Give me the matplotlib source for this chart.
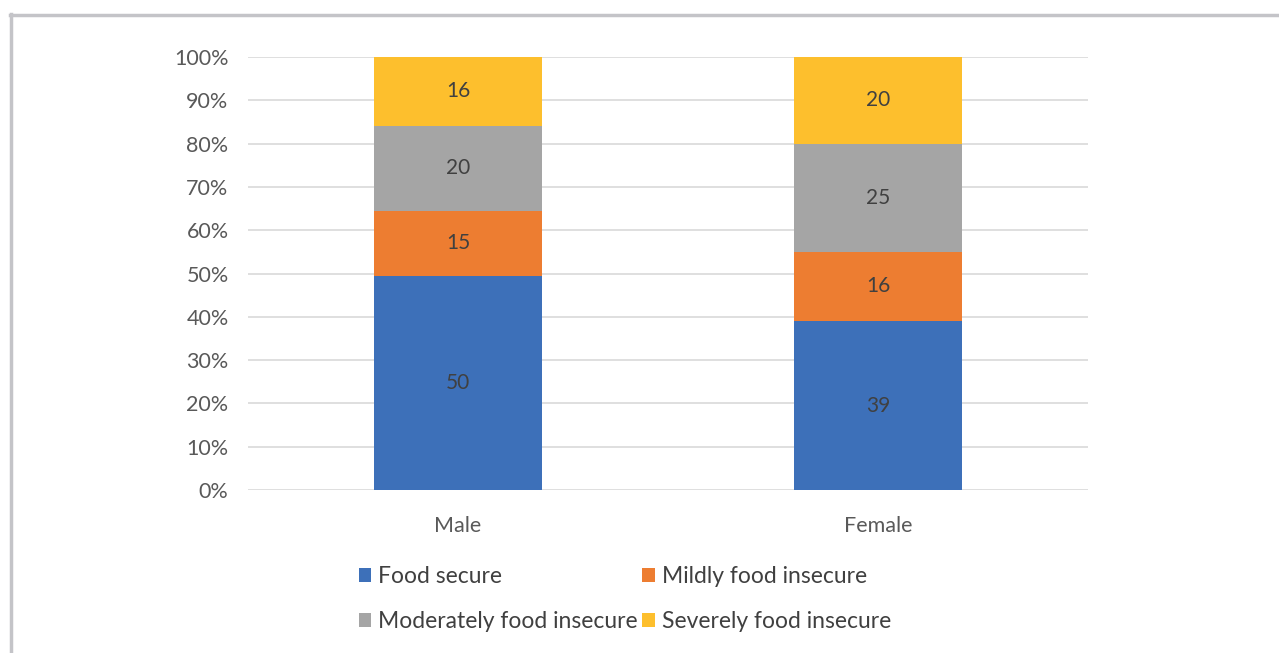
import numpy as np
import matplotlib.pyplot as plt
from matplotlib.lines import Line2D

plt.rcParams['font.family'] = ['Lato', 'DejaVu Sans']

groups = ["Male", "Female"]
series = ["Food secure", "Mildly food insecure", "Moderately food insecure", "Severely food insecure"]
food_secure = [50, 39]
mildly = [15, 16]
moderately = [20, 25]
severely = [16, 20]
colors = ["#3D70B9", "#ED7D31", "#A5A5A5", "#FDBF2D"]

vals = np.array([food_secure, mildly, moderately, severely], dtype=float)
shares = vals / vals.sum(axis=0) * 100

fig = plt.figure(figsize=(12.79, 6.53), dpi=100)
ax = fig.add_axes([248 / 1279, 1 - 490 / 653, 840 / 1279, 433 / 653])

x = np.arange(len(groups))
bottom = np.zeros(len(groups))
handles = []
for i, name in enumerate(series):
    bars = ax.bar(x, shares[i], 0.4, bottom=bottom, color=colors[i], label=name, zorder=3)
    for j, b in enumerate(bars):
        ax.text(b.get_x() + b.get_width() / 2, bottom[j] + shares[i][j] / 2,
                f"{vals[i][j]:.0f}", ha="center", va="center", fontsize=15, color="#404040", zorder=4)
    bottom += shares[i]
    handles.append(bars)

ax.set_xlim(-0.5, 1.5)
ax.set_ylim(0, 100)
ax.set_yticks(np.arange(0, 101, 10))
ax.set_yticklabels([f"{v}%" for v in range(0, 101, 10)])
ax.set_xticks(x)
ax.set_xticklabels(groups)
ax.tick_params(axis="both", length=0, labelsize=15.5, labelcolor="#595959")
ax.tick_params(axis="y", pad=14)
ax.tick_params(axis="x", pad=19)
ax.grid(axis="y", color="#D9D9D9", linewidth=1.2, zorder=0)
for s in ax.spines.values():
    s.set_visible(False)

order = [0, 2, 1, 3]
leg = fig.legend([handles[k] for k in order], [series[k] for k in order],
                 ncol=2, loc="center", bbox_to_anchor=(625 / 1279, 1 - 599 / 653),
                 frameon=False, fontsize=16.5, labelcolor="#404040",
                 handlelength=0.55, handleheight=0.55, handletextpad=0.3,
                 columnspacing=0.2, labelspacing=1.05)

# outer frame of the picture
fig.add_artist(Line2D([11 / 1279, 11 / 1279], [0, 1 - 14 / 653], transform=fig.transFigure,
                      color="#C4C4C8", linewidth=2.5))
fig.add_artist(Line2D([10 / 1279, 1], [1 - 15 / 653, 1 - 15 / 653], transform=fig.transFigure,
                      color="#C4C4C8", linewidth=2.5))

fig.savefig("out.png", dpi=100)
